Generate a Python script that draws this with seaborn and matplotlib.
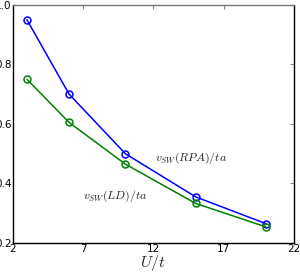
import matplotlib
matplotlib.use("Agg")
import matplotlib.pyplot as plt
import pandas as pd
import seaborn as sns

u_over_t = [3, 6, 10, 15, 20]
v_rpa = [0.95, 0.70, 0.50, 0.355, 0.265]
v_ld = [0.75, 0.605, 0.465, 0.333, 0.254]

x_ticks = [2, 7, 12, 17, 22]
y_ticks = [0.2, 0.4, 0.6, 0.8, 1.0]

df = pd.DataFrame({"U": u_over_t * 2,
                   "v": v_rpa + v_ld,
                   "series": ["RPA"] * len(u_over_t) + ["LD"] * len(u_over_t)})

sns.set_style("white")
plt.rcParams["font.family"] = ["DejaVu Sans"]
plt.rcParams["mathtext.fontset"] = "cm"

fig = plt.figure(figsize=(3.0, 2.73), dpi=100)
ax = fig.add_axes([0.043, 0.11, 0.937, 0.872])

sns.lineplot(data=df, x="U", y="v", hue="series", palette={"RPA": "#0000ff", "LD": "#008000"},
             marker="o", markersize=5, markerfacecolor="none", markeredgewidth=1.1,
             linewidth=1.1, legend=False, ax=ax)
for line, c in zip(ax.lines, ["#0000ff", "#008000"]):
    line.set_markeredgecolor(c)

ax.set_xlim(2, 22)
ax.set_ylim(0.2, 1.0)
ax.set_xticks(x_ticks)
ax.set_yticks(y_ticks)
ax.set_xticklabels([str(v) for v in x_ticks])
ax.set_yticklabels(["%.1f" % v for v in y_ticks])
ax.tick_params(direction="in", length=3, labelsize=7.5, pad=1, top=True, right=True, colors="#888888",
               labelcolor="black")
for s in ax.spines.values():
    s.set_color("black")
    s.set_linewidth(1.0)
ax.spines["top"].set_color("#777777")

ax.set_xlabel(r"$U/t$", fontsize=11.5, labelpad=-1)
ax.set_ylabel("")

ax.text(12.1, 0.485, r"$v_{SW}(RPA)/ta$", fontsize=8.5, ha="left", va="center", color="#222222")
ax.text(7.0, 0.355, r"$v_{SW}(LD)/ta$", fontsize=8.5, ha="left", va="center", color="#222222")

fig.savefig("out.png", dpi=100)
